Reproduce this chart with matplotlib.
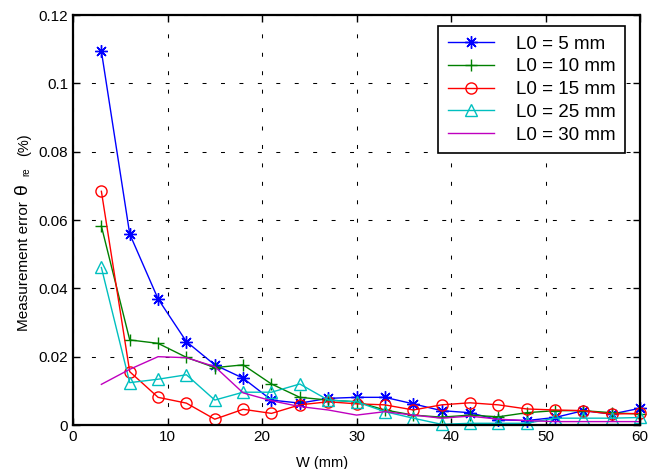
import matplotlib
matplotlib.use("Agg")
import matplotlib.pyplot as plt

plt.rcParams['font.family'] = ['Liberation Sans', 'DejaVu Sans']

# plate width W (mm)
w = [3, 6, 9, 12, 15, 18, 21, 24, 27, 30, 33, 36, 39, 42, 45, 48, 51, 54, 57, 60]

# measurement error for each L0
err_5 = [0.1094, 0.0559, 0.0369, 0.0244, 0.0176, 0.0137, 0.0073, 0.0064, 0.0078, 0.0081,
         0.0081, 0.0062, 0.0042, 0.0036, 0.0015, 0.0013, 0.0022, 0.0042, 0.0032, 0.0049]
err_10 = [0.0582, 0.0249, 0.0239, 0.0198, 0.0168, 0.0176, 0.0120, 0.0081, 0.0073, 0.0068,
          0.0044, 0.0029, 0.0023, 0.0029, 0.0024, 0.0036, 0.0042, 0.0042, 0.0036, 0.0032]
err_15 = [0.0684, 0.0156, 0.0081, 0.0064, 0.0017, 0.0046, 0.0034, 0.0059, 0.0068, 0.0062,
          0.0059, 0.0044, 0.0059, 0.0065, 0.0059, 0.0047, 0.0044, 0.0042, 0.0032, 0.0034]
err_25 = [0.0461, 0.0124, 0.0134, 0.0147, 0.0073, 0.0096, 0.0096, 0.0120, 0.0073, 0.0068,
          0.0039, 0.0020, 0.0002, 0.0005, 0.0005, 0.0005, 0.0020, 0.0020, 0.0020, 0.0022]
err_30 = [0.0119, 0.0163, 0.0200, 0.0197, 0.0171, 0.0094, 0.0071, 0.0054, 0.0044, 0.0029,
          0.0039, 0.0029, 0.0020, 0.0026, 0.0017, 0.0013, 0.0010, 0.0010, 0.0010, 0.0010]

labels = ['L0 = 5 mm', 'L0 = 10 mm', 'L0 = 15 mm', 'L0 = 25 mm', 'L0 = 30 mm']

fig = plt.figure(figsize=(6.48, 4.69), dpi=100)
ax = fig.add_axes([0.1127, 0.0938, 0.875, 0.8742])

# (8, 2, 0): eight-armed asterisk, like + and x on top of each other
ax.plot(w, err_5, color=(0, 0, 1), marker=(8, 2, 0), ms=9, mew=1, lw=1, label=labels[0], clip_on=False)
ax.plot(w, err_10, color=(0, 0.5, 0), marker='+', ms=9, mew=1, lw=1, label=labels[1], clip_on=False)
ax.plot(w, err_15, color=(1, 0, 0), marker='o', ms=8, mfc='none', lw=1, label=labels[2], clip_on=False)
ax.plot(w, err_25, color=(0, 0.75, 0.75), marker='^', ms=9, mfc='none', lw=1, label=labels[3], clip_on=False)
ax.plot(w, err_30, color=(0.75, 0, 0.75), lw=1, label=labels[4], clip_on=False)

ax.set_xlim(0, 60)
ax.set_ylim(0, 0.12)
ax.set_xticks([0, 10, 20, 30, 40, 50, 60])
ax.set_yticks([0, 0.02, 0.04, 0.06, 0.08, 0.1, 0.12])
ax.set_yticklabels(['0', '0.02', '0.04', '0.06', '0.08', '0.1', '0.12'])
ax.grid(True, color='black', linestyle=(0, (3.8, 13.9)), linewidth=0.75)
ax.tick_params(direction='in', length=5, width=1, labelsize=11, top=True, right=True,
               labeltop=False, labelright=False)
for s in ax.spines.values():
    s.set_linewidth(1.6)

ax.set_xlabel('W (mm)', fontsize=10.5, labelpad=3)
ax.xaxis.set_label_coords(0.44, -0.075)

# y label pieces: plain text plus a larger theta with its subscript
H = 469.0
fig.text(24 / 648, 1 - 266 / H, 'Measurement error', rotation=90, fontsize=11,
         ha='center', va='center')
fig.text(22 / 648, 1 - 189 / H, '\u03b8', rotation=90, fontsize=14, ha='center', va='center')
fig.text(26 / 648, 1 - 172 / H, 're', rotation=90, fontsize=7, ha='center', va='center')
fig.text(24 / 648, 1 - 145 / H, '(%)', rotation=90, fontsize=10.5, ha='center', va='center')

leg = ax.legend(loc='upper right', bbox_to_anchor=(0.974, 0.973), fontsize=13.5,
                frameon=True, fancybox=False, edgecolor='black', framealpha=1,
                handlelength=2.45, handletextpad=1.2, labelspacing=0.3,
                borderpad=0.5, borderaxespad=0)
leg.get_frame().set_linewidth(1.2)

fig.savefig('out.png', dpi=100)
